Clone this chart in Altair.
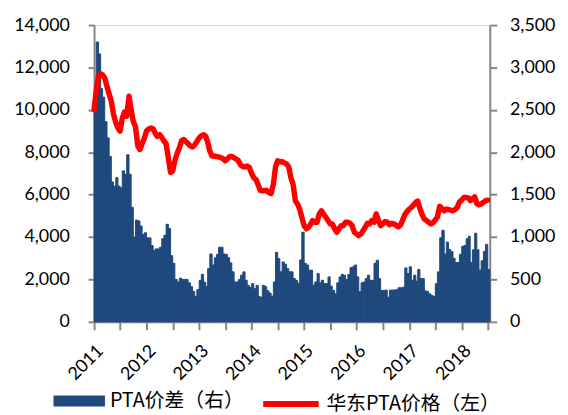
import altair as alt
import pandas as pd

# semi-monthly observations starting 2011-01-01
start_year = 2011
spread = [
    2500, 3300, 3160, 2750, 2650, 2360, 2170, 1950, 1650, 1600, 1700, 1600, 1580, 1780, 1740, 1970,
    1740, 1350, 1000, 1200, 1190, 1130, 1030, 1050, 990, 990, 900, 840, 860, 860, 880, 980,
    1020, 1150, 1100, 780, 690, 500, 470, 515, 500, 500, 500, 460, 415,
    360, 300, 380, 490, 560, 468, 415, 628, 800, 670, 755, 795, 880, 880, 800, 796,
    757, 695, 590, 470, 470, 500, 550, 589, 490, 430, 405, 450, 390, 430, 300, 290,
    430, 415, 367, 340, 304, 470, 820, 745, 590, 706, 680, 628, 590,
    590, 510, 490, 455, 730, 1057, 690, 670, 609, 609, 433, 470, 570, 460, 490, 450,
    450, 530, 420, 370, 330, 460, 530, 560, 550, 500, 560, 640, 648, 670, 530, 355,
    460, 470, 510, 550, 490, 490, 690, 726, 510, 370, 370, 375, 290, 375,
    375, 375, 380, 402, 402, 410, 636, 570, 650, 490, 550, 480, 617, 511, 510, 365,
    360, 330, 310, 300, 450, 589, 991, 1080, 800, 940, 855, 830, 750, 700, 700, 796,
    890, 900, 980, 1010, 700, 850, 1045, 850, 610, 720, 830, 913, 617,
]
price = [
    10000, 10900, 11600, 11700, 11650, 11500, 11100, 10750, 10400, 9800, 9400, 9150, 9000, 9600, 9900, 9700,
    10640, 10000, 9450, 9200, 8300, 8130, 8400, 8650, 9000, 9100, 9150, 9100, 8900, 8750, 8830, 8700,
    8530, 8400, 7700, 7050, 7120, 7600, 7950, 8200, 8550, 8600, 8500, 8400, 8300,
    8250, 8350, 8500, 8680, 8780, 8830, 8750, 8480, 8050, 7820, 7820, 7800, 7780, 7740, 7700, 7600,
    7680, 7800, 7800, 7740, 7680, 7600, 7400, 7320, 7300, 7350, 7280, 7000, 6800, 6700, 6450, 6200,
    6180, 6200, 6200, 6100, 6050, 6500, 7300, 7600, 7550, 7560, 7500, 7450, 7300,
    6800, 6490, 5710, 5560, 5320, 4930, 4540, 4390, 4460, 4620, 4780, 4700, 4700, 5090, 5240, 5090,
    4930, 4780, 4620, 4620, 4390, 4230, 4390, 4540, 4540, 4700, 4700, 4650, 4540, 4230, 4150, 4070,
    4150, 4310, 4460, 4650, 4620, 4780, 4700, 5090, 4780, 4540, 4620, 4730, 4700, 4580,
    4650, 4620, 4560, 4480, 4560, 4800, 5050, 5200, 5320, 5400, 5520, 5640, 5700, 5350, 5050, 4850,
    4780, 4700, 4620, 4680, 4800, 4950, 5450, 5350, 5240, 5320, 5300, 5270, 5240, 5300, 5400, 5650,
    5750, 5870, 5870, 5850, 5720, 5800, 5900, 5580, 5520, 5560, 5640, 5720, 5740,
]
bar_name = "PTA价差（右）"
line_name = "华东PTA价格（左）"
left_ticks = [0, 2000, 4000, 6000, 8000, 10000, 12000, 14000]
right_ticks = [0, 500, 1000, 1500, 2000, 2500, 3000, 3500]
years = list(range(2011, 2019))


def half_month(i):
    y = start_year + i // 24
    m = (i % 24) // 2 + 1
    d = 1 if i % 2 == 0 else 16
    return pd.Timestamp(year=y, month=m, day=d)


n = len(spread)
df = pd.DataFrame({
    "date": [half_month(i) for i in range(n)],
    "date_end": [half_month(i + 1) for i in range(n)],
    "spread": spread,
    "price": price,
    "s1": bar_name,
    "s2": line_name,
})

FONT = "Lato, Noto Sans CJK SC, sans-serif"
LFONT = "Noto Sans CJK SC, sans-serif"
AX = "#868686"
BLUE = "#1F497D"
RED = "#FF0000"

tick_vals = []
for y in years:
    tick_vals.append(alt.DateTime(year=y, month=1, date=1))
    tick_vals.append(alt.DateTime(year=y, month=7, date=1))

x_enc = alt.X(
    "date:T",
    scale=alt.Scale(domain=[alt.DateTime(year=2011, month=1, date=1),
                            alt.DateTime(year=2018, month=7, date=15)]),
    axis=alt.Axis(
        values=tick_vals,
        labelExpr="month(datum.value) == 0 ? timeFormat(datum.value, '%Y') : ''",
        labelAngle=315, labelAlign="right", labelBaseline="top",
        labelPadding=12, labelFontSize=18, labelFont=FONT, labelColor="#000000",
        tickSize=8, tickWidth=2, tickColor=AX, domainColor=AX, domainWidth=2,
        grid=False, title=None, labelOverlap=False,
    ),
)

bars = alt.Chart(df).mark_rect(stroke=BLUE, strokeWidth=1).encode(
    x=x_enc,
    x2="date_end:T",
    y=alt.Y(
        "spread:Q",
        scale=alt.Scale(domain=[0, 3500], nice=False),
        axis=alt.Axis(
            orient="right", values=right_ticks, format=",.0f", title=None, grid=False,
            labelFontSize=18, labelFont=FONT, labelColor="#000000", labelPadding=13,
            tickSize=7, tickWidth=2, tickColor=AX, domainColor=AX, domainWidth=2,
        ),
    ),
    y2=alt.datum(0),
    fill=alt.Fill(
        "s1:N",
        scale=alt.Scale(domain=[bar_name], range=[BLUE]),
        legend=alt.Legend(
            orient="none", legendX=-41, legendY=354, title=None,
            symbolType="M-1,-0.21L1,-0.21L1,0.21L-1,0.21Z", symbolSize=2704,
            symbolStrokeWidth=0, labelFontSize=20, labelFont=LFONT, labelColor="#000000",
            labelOffset=5, labelLimit=300, padding=0,
        ),
    ),
)

line = alt.Chart(df).mark_line(strokeWidth=5.5, strokeJoin="round", strokeCap="round").encode(
    x=x_enc,
    y=alt.Y(
        "price:Q",
        scale=alt.Scale(domain=[0, 14000], nice=False),
        axis=alt.Axis(
            orient="left", values=left_ticks, format=",.0f", title=None, grid=False,
            labelFontSize=18, labelFont=FONT, labelColor="#000000", labelPadding=19,
            tickSize=6, tickWidth=2, tickColor=AX, domainColor=AX, domainWidth=2,
        ),
    ),
    stroke=alt.Stroke(
        "s2:N",
        scale=alt.Scale(domain=[line_name], range=[RED]),
        legend=alt.Legend(
            orient="none", legendX=168, legendY=352, title=None,
            symbolType="stroke", symbolSize=3136, symbolStrokeWidth=6,
            labelFontSize=20, labelFont=LFONT, labelColor="#000000",
            labelOffset=5, labelLimit=300, padding=0,
        ),
    ),
)

chart = alt.layer(bars, line).resolve_scale(
    y="independent", fill="independent", stroke="independent"
).properties(
    width=400, height=300,
    padding={"left": 5, "top": 6, "right": 5, "bottom": 5},
).configure_view(stroke=None).configure(background="white")

chart.save("out.html", embed_options={"renderer": "svg", "actions": False})
